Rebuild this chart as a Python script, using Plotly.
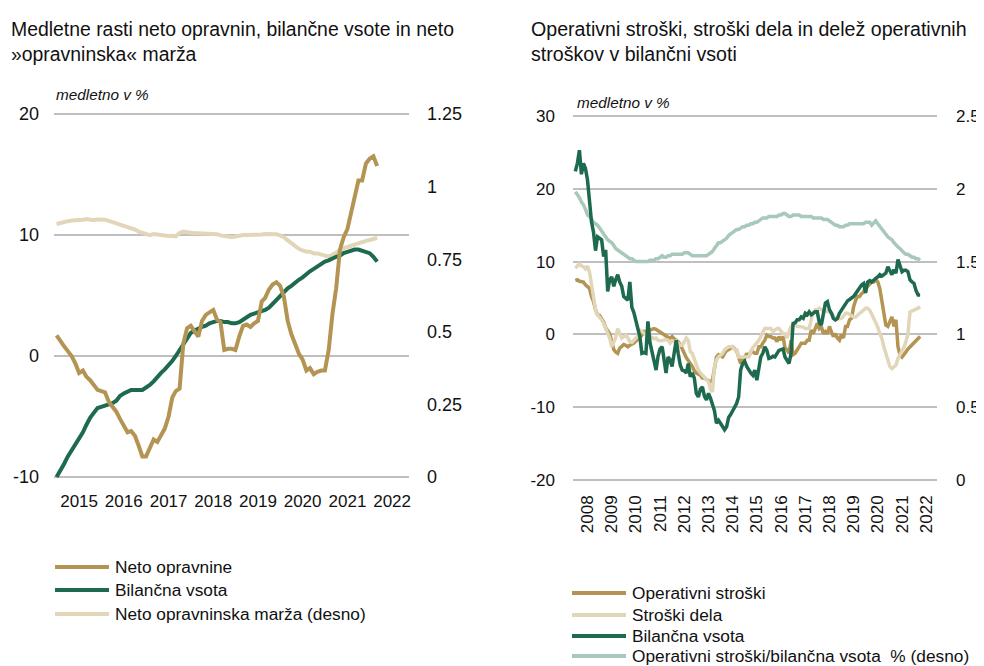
import plotly.graph_objects as go
import pandas as pd

# ---------------- DATA ----------------
# Left chart: monthly, Jul 2014 - Sep 2021
left_start = "2014-07-01"
neto_opravnine = [
    1.7, 1.2, 0.8, 0.4, 0.0, -0.6,
    -1.4, -1.2, -1.7, -2.0, -2.4, -2.8, -2.9, -3.0, -3.8, -4.2, -4.6, -5.2,
    -5.8, -6.3, -6.2, -6.6, -7.4, -8.3, -8.3, -7.6, -6.9, -7.1, -6.6, -6.0,
    -5.0, -3.4, -2.9, -2.7, 1.0, 2.3, 2.5, 2.0, 1.6, 2.9, 3.4, 3.6,
    3.8, 3.0, 2.8, 0.5, 0.6, 0.6, 0.5, 1.6, 2.5, 2.6, 2.4, 2.7,
    2.9, 4.5, 4.8, 5.5, 5.9, 6.1, 5.8, 4.9, 2.9, 1.8, 0.9, 0.2,
    -0.3, -1.2, -1.0, -1.5, -1.3, -1.2, -1.2, 0.5, 3.5, 5.6, 8.8, 9.8,
    10.5, 11.8, 13.2, 14.5, 14.5, 15.9, 16.3, 16.5, 15.7,
]
bilancna_vsota_l = [
    -10.0, -9.5, -8.9, -8.3, -7.8, -7.3,
    -6.8, -6.3, -5.7, -5.1, -4.7, -4.3, -4.2, -4.1, -4.0, -3.9, -3.7, -3.3,
    -3.1, -2.9, -2.8, -2.8, -2.8, -2.8, -2.6, -2.4, -2.1, -1.7, -1.4, -1.1,
    -0.8, -0.4, 0.0, 0.5, 1.0, 1.5, 1.9, 2.1, 2.3, 2.4, 2.5, 2.7,
    2.8, 2.9, 2.9, 2.8, 2.8, 2.7, 2.7, 2.8, 3.0, 3.2, 3.4, 3.5,
    3.6, 3.7, 3.8, 4.0, 4.3, 4.7, 5.0, 5.3, 5.6, 5.8, 6.1, 6.3,
    6.5, 6.8, 7.0, 7.2, 7.4, 7.6, 7.8, 7.9, 8.1, 8.2, 8.3, 8.5,
    8.6, 8.7, 8.8, 8.8, 8.7, 8.6, 8.5, 8.2, 7.8,
]
neto_marza = [
    0.871, 0.875, 0.879, 0.881, 0.883, 0.883,
    0.884, 0.886, 0.888, 0.886, 0.884, 0.887, 0.888, 0.886, 0.882, 0.878, 0.874, 0.868,
    0.864, 0.860, 0.855, 0.852, 0.845, 0.840, 0.835, 0.833, 0.837, 0.835, 0.833, 0.832,
    0.830, 0.831, 0.829, 0.840, 0.845, 0.843, 0.840, 0.839, 0.839, 0.839, 0.839, 0.839,
    0.839, 0.836, 0.832, 0.830, 0.828, 0.826, 0.828, 0.832, 0.833, 0.833, 0.833, 0.833,
    0.833, 0.835, 0.837, 0.837, 0.837, 0.836, 0.832, 0.826, 0.815, 0.805, 0.795, 0.786,
    0.780, 0.776, 0.776, 0.770, 0.770, 0.766, 0.762, 0.759, 0.765, 0.772, 0.782, 0.788,
    0.792, 0.797, 0.801, 0.806, 0.810, 0.813, 0.816, 0.819, 0.823,
]
left_years = [2015, 2016, 2017, 2018, 2019, 2020, 2021, 2022]
left_y_ticks = [-10, 0, 10, 20]
left_y2_ticks = [0, 0.25, 0.5, 0.75, 1, 1.25]
left_names = ["Neto opravnine", "Bilančna vsota", "Neto opravninska marža (desno)"]

# Right chart: monthly, Jul 2007 - Oct 2021
right_start = "2007-07-01"
operativni_stroski = [
    7.4, 7.5, 7.3, 7.2, 7.2, 6.8,
    6.6, 6.3, 5.2, 4.5, 3.4, 2.7, 2.6, 2.1, 1.7, 0.9, 0.4, 0.1,
    -1.0, -2.1, -2.4, -2.6, -1.9, -1.7, -1.4, -1.5, -1.7, -1.5, -1.4, -1.2,
    -0.9, -0.6, -0.3, -0.1, 0.4, 0.3, 0.5, 0.6, 0.7, 0.8, 0.7, 0.5,
    0.4, 0.2, -0.1, -0.3, -0.4, -0.5, -0.3, -0.6, -0.8, -1.0, -1.4, -2.1,
    -2.6, -3.2, -3.5, -4.0, -4.4, -5.0, -5.3, -5.5, -5.6, -6.0, -6.0, -6.2,
    -6.3, -6.5, -6.3, -4.4, -3.1, -2.8, -2.9, -3.1, -2.6, -2.2, -2.1, -1.9,
    -1.7, -2.0, -2.2, -3.1, -4.0, -3.3, -3.3, -2.6, -3.1, -2.4, -2.4, -2.6,
    -2.6, -1.7, -1.7, -1.2, -0.8, -0.1, -0.3, -0.3, -0.5, -0.5, -1.0, -0.3,
    -0.8, -0.3, -1.9, -2.1, -2.6, -0.8, -2.8, -2.6, -2.2, -1.7, -1.2, -1.2,
    -1.2, -0.8, -0.8, 0.6, 0.1, 0.8, 1.5, 0.8, 1.1, 0.1, 0.4, 0.1,
    1.1, 0.3, -0.3, 0.1, -0.5, -0.8, 0.0, -0.5, 1.1, 1.1, 2.0, 2.2,
    3.8, 4.7, 5.2, 5.2, 5.6, 5.8, 6.6, 6.6, 6.9, 7.2, 7.2, 7.5,
    7.2, 6.3, 4.7, 2.9, 1.3, 1.1, 1.8, 2.4, 1.1, 2.0, -1.7, -2.8,
    -3.1, -2.8, -2.4, -2.0, -1.7, -1.5, -1.2, -0.8, -0.6, -0.3,
]
stroski_dela = [
    9.1, 9.5, 9.7, 9.4, 9.3, 9.0,
    9.4, 8.5, 6.6, 4.5, 3.4, 2.7, 2.4, 2.0, 1.5, 0.8, -0.1, -0.5,
    -1.7, -1.0, -0.5, 0.8, 0.2, -0.5, -0.3, -0.1, -0.5, -1.0, -1.1, -0.8,
    -0.5, -0.2, 0.6, 0.4, 0.1, 0.0, -0.1, -0.3, -0.5, -0.6, -0.5, -0.8,
    -0.9, -0.8, -0.8, -0.7, -0.8, -1.2, -0.9, -1.0, -0.9, -1.2, -1.5, -1.5,
    -1.0, -0.5, -0.8, -2.4, -2.6, -3.5, -4.4, -4.9, -5.3, -5.6, -6.0, -6.3,
    -6.5, -7.6, -7.9, -4.4, -3.5, -3.1, -2.8, -2.6, -2.1, -1.9, -1.7, -1.7,
    -1.7, -2.1, -2.1, -3.1, -3.1, -3.1, -3.1, -3.1, -3.1, -2.4, -1.8, -1.5,
    -1.2, -0.8, -0.3, 0.2, 0.8, 0.8, 0.8, 0.8, 0.4, 0.6, 0.8, 0.8,
    0.5, 0.1, 0.1, -0.5, 0.4, 1.1, 1.3, 1.3, 1.1, 1.1, 1.1, 1.0,
    0.8, 0.8, 0.8, 2.0, 3.1, 3.4, 3.4, 3.6, 3.4, 3.4, 3.2, 3.1,
    3.1, 2.9, 2.5, 2.0, 2.1, 2.2, 2.2, 2.5, 2.9, 2.9, 2.7, 2.5,
    2.4, 2.4, 2.7, 2.9, 3.1, 3.4, 3.6, 3.6, 3.3, 2.8, 2.2, 1.5,
    1.0, 0.1, -0.5, -1.7, -2.6, -3.5, -4.4, -4.7, -4.5, -4.2, -3.3, -2.8,
    -2.2, -1.7, -1.0, 0.1, 3.1, 3.2, 3.4, 3.5, 3.6, 3.8,
]
bilancna_vsota_r = [
    22.4, 23.5, 25.3, 22.0, 23.5, 22.8,
    21.2, 17.5, 15.5, 14.0, 11.5, 13.4, 13.2, 13.0, 10.7, 11.6, 5.9, 7.5,
    7.9, 6.6, 7.5, 8.2, 7.2, 6.6, 5.2, 5.0, 4.7, 7.2, 3.7, 3.0,
    2.0, 1.0, -0.3, -2.6, -2.5, -2.6, 1.8, -1.1, -2.5, -3.8, -4.9, -3.0,
    -2.0, -1.7, -3.5, -5.3, -3.1, -3.5, -4.4, -2.5, -0.8, -2.6, -4.2, -4.9,
    -5.0, -5.3, -4.0, -5.8, -5.3, -6.0, -8.1, -8.6, -7.5, -7.2, -8.5, -9.0,
    -8.1, -8.8, -9.5, -10.5, -12.2, -11.8, -12.2, -12.7, -13.1, -12.7, -11.4, -11.0,
    -10.4, -10.0, -9.5, -8.6, -4.9, -4.0, -3.7, -4.4, -4.9, -5.3, -5.6, -4.9,
    -6.3, -4.4, -3.1, -2.6, -1.7, -2.2, -3.3, -3.2, -3.0, -3.1, -2.6, -2.2,
    -2.1, -2.0, -3.1, -3.5, -4.0, -2.6, 1.5, 1.6, 2.0, 2.0, 2.4, 2.2,
    2.9, 2.7, 3.1, 2.7, 2.9, 3.1, 3.1, 1.6, 1.3, 3.1, 4.3, 4.5,
    3.4, 2.9, 2.2, 2.0, 2.2, 2.9, 3.3, 3.8, 4.3, 4.6, 4.8, 5.0,
    5.2, 5.6, 6.0, 6.3, 6.8, 7.0, 5.7, 7.2, 7.4, 7.2, 7.5, 7.7,
    7.9, 8.2, 8.0, 8.2, 8.4, 9.3, 8.8, 8.2, 8.9, 8.4, 10.3, 9.5,
    8.6, 8.8, 8.8, 8.6, 7.5, 7.2, 7.0, 6.0, 5.4, 5.4,
]
op_stroski_bilanca = [
    1.98, 1.96, 1.94, 1.91, 1.89, 1.86,
    1.82, 1.81, 1.79, 1.77, 1.76, 1.75, 1.73, 1.71, 1.68, 1.67, 1.65, 1.64,
    1.63, 1.61, 1.59, 1.58, 1.57, 1.56, 1.55, 1.54, 1.53, 1.52, 1.52, 1.51,
    1.50, 1.50, 1.50, 1.50, 1.50, 1.50, 1.50, 1.51, 1.51, 1.51, 1.52, 1.52,
    1.53, 1.54, 1.53, 1.53, 1.54, 1.54, 1.55, 1.55, 1.55, 1.55, 1.55, 1.55,
    1.56, 1.56, 1.56, 1.55, 1.54, 1.54, 1.54, 1.54, 1.54, 1.54, 1.54, 1.54,
    1.55, 1.56, 1.57, 1.59, 1.61, 1.63, 1.63, 1.64, 1.65, 1.66, 1.68, 1.69,
    1.70, 1.71, 1.72, 1.72, 1.73, 1.74, 1.74, 1.75, 1.75, 1.76, 1.76, 1.77,
    1.77, 1.78, 1.79, 1.80, 1.80, 1.80, 1.81, 1.81, 1.81, 1.81, 1.81, 1.82,
    1.82, 1.83, 1.83, 1.82, 1.81, 1.81, 1.82, 1.82, 1.82, 1.82, 1.81, 1.81,
    1.81, 1.81, 1.81, 1.81, 1.80, 1.80, 1.80, 1.80, 1.80, 1.79, 1.79, 1.79,
    1.78, 1.77, 1.76, 1.75, 1.75, 1.74, 1.74, 1.74, 1.75, 1.75, 1.76, 1.76,
    1.76, 1.76, 1.76, 1.76, 1.76, 1.76, 1.77, 1.77, 1.77, 1.75, 1.77, 1.78,
    1.76, 1.74, 1.72, 1.70, 1.68, 1.67, 1.66, 1.65, 1.63, 1.61, 1.60, 1.59,
    1.57, 1.56, 1.55, 1.55, 1.54, 1.53, 1.53, 1.52, 1.52, 1.51,
]
right_years = list(range(2008, 2023))
right_y_ticks = [-20, -10, 0, 10, 20, 30]
right_y2_ticks = [0, 0.5, 1, 1.5, 2, 2.5]
right_names = ["Operativni stroški", "Stroški dela", "Bilančna vsota",
               "Operativni stroški/bilančna vsota\u00a0\u00a0% (desno)"]

left_title = "Medletne rasti neto opravnin, bilančne vsote in neto<br>»opravninska« marža"
right_title = "Operativni stroški, stroški dela in delež operativnih<br>stroškov v bilančni vsoti"
unit_label = "medletno v %"

# ---------------- STYLE ----------------
VIEW_W, VIEW_H = 984, 666
OFF = 8                      # page body margin
W, H = VIEW_W - OFF, VIEW_H - OFF
GOLD = "#B39452"
GREEN = "#1E6A4E"
BEIGE = "#E2D6B8"
LGREEN = "#A8C8B9"
GRID = "#BFBFBF"
TXT = "#111111"
FONT = "Liberation Sans, Arial, sans-serif"
PADPX = 3                    # extend plot area so edge gridlines are not clipped

# plot-area pixel boxes (top, bottom) of the gridded value ranges
L_TOP, L_BOT = 114, 477
R_TOP, R_BOT = 116, 480

def px_x(x):
    return (x - OFF) / W

def px_y(y):
    return (VIEW_H - y) / H

def fmt(v):
    return ("%g" % v)

def padded(lo, hi, top, bot):
    d = (hi - lo) * PADPX / (bot - top)
    return [lo - d, hi + d]

left_dates = pd.date_range(left_start, periods=len(neto_opravnine), freq="MS")
right_dates = pd.date_range(right_start, periods=len(operativni_stroski), freq="MS")

fig = go.Figure()

# Left chart (base axis y = right-side marža, overlay y2 = left-side %)
fig.add_trace(go.Scatter(x=left_dates, y=neto_marza, name=left_names[2], mode="lines",
                         line=dict(color=BEIGE, width=4), xaxis="x", yaxis="y", showlegend=False))
fig.add_trace(go.Scatter(x=left_dates, y=bilancna_vsota_l, name=left_names[1], mode="lines",
                         line=dict(color=GREEN, width=4), xaxis="x", yaxis="y2", showlegend=False))
fig.add_trace(go.Scatter(x=left_dates, y=neto_opravnine, name=left_names[0], mode="lines",
                         line=dict(color=GOLD, width=4), xaxis="x", yaxis="y2", showlegend=False))

# Right chart (base axis y3 = right-side ratio, overlay y4 = left-side %)
fig.add_trace(go.Scatter(x=right_dates, y=op_stroski_bilanca, name=right_names[3], mode="lines",
                         line=dict(color=LGREEN, width=3.5), xaxis="x2", yaxis="y3", showlegend=False))
fig.add_trace(go.Scatter(x=right_dates, y=operativni_stroski, name=right_names[0], mode="lines",
                         line=dict(color=GOLD, width=3.5), xaxis="x2", yaxis="y4", showlegend=False))
fig.add_trace(go.Scatter(x=right_dates, y=stroski_dela, name=right_names[1], mode="lines",
                         line=dict(color=BEIGE, width=3.5), xaxis="x2", yaxis="y4", showlegend=False))
fig.add_trace(go.Scatter(x=right_dates, y=bilancna_vsota_r, name=right_names[2], mode="lines",
                         line=dict(color=GREEN, width=3.5), xaxis="x2", yaxis="y4", showlegend=False))

def tf(size):
    return dict(family=FONT, size=size, color=TXT)

common = dict(zeroline=False, showline=False, ticks="", automargin=False)

fig.update_layout(
    template="none",
    width=W, height=H,
    margin=dict(l=0, r=0, t=0, b=0, pad=0, autoexpand=False),
    paper_bgcolor="white", plot_bgcolor="rgba(0,0,0,0)",
    font=dict(family=FONT, color=TXT),
    showlegend=False,
    xaxis=dict(domain=[px_x(54), px_x(409)], anchor="y", type="date",
               range=["2014-06-10", "2022-05-19"],
               tickvals=[f"{y}-01-01" for y in left_years], ticktext=[str(y) for y in left_years],
               showgrid=False, tickfont=tf(17), ticklabelstandoff=12 - PADPX, **common),
    yaxis=dict(domain=[px_y(L_BOT + PADPX), px_y(L_TOP - PADPX)], anchor="x", side="right",
               range=padded(0, 1.25, L_TOP, L_BOT),
               tickvals=left_y2_ticks, ticktext=[fmt(v) for v in left_y2_ticks],
               showgrid=False, tickfont=tf(18), ticklabelstandoff=17, **common),
    yaxis2=dict(overlaying="y", anchor="x", side="left",
                range=padded(-10, 20, L_TOP, L_BOT),
                tickvals=left_y_ticks, ticktext=[fmt(v) for v in left_y_ticks],
                showgrid=True, gridcolor=GRID, gridwidth=1.5,
                tickfont=tf(18), ticklabelstandoff=14, **common),
    xaxis2=dict(domain=[px_x(573), px_x(937)], anchor="y3", type="date",
                range=["2007-05-27", "2022-06-13"],
                tickvals=[f"{y}-01-01" for y in right_years], ticktext=[str(y) for y in right_years],
                tickangle=-90, showgrid=False, tickfont=tf(17), ticklabelstandoff=11 - PADPX, **common),
    yaxis3=dict(domain=[px_y(R_BOT + PADPX), px_y(R_TOP - PADPX)], anchor="x2", side="right",
                range=padded(0, 2.5, R_TOP, R_BOT),
                tickvals=right_y2_ticks, ticktext=[fmt(v) for v in right_y2_ticks],
                showgrid=False, tickfont=tf(17), ticklabelstandoff=18, **common),
    yaxis4=dict(overlaying="y3", anchor="x2", side="left",
                range=padded(-20, 30, R_TOP, R_BOT),
                tickvals=right_y_ticks, ticktext=[fmt(v) for v in right_y_ticks],
                showgrid=True, gridcolor=GRID, gridwidth=1.5,
                tickfont=tf(17), ticklabelstandoff=17, **common),
)

annotations = [
    dict(text=left_title, x=px_x(9), y=px_y(42), xref="paper", yref="paper",
         xanchor="left", yanchor="middle", align="left", showarrow=False, font=tf(19.4)),
    dict(text=right_title, x=px_x(529), y=px_y(42), xref="paper", yref="paper",
         xanchor="left", yanchor="middle", align="left", showarrow=False, font=tf(19.6)),
    dict(text=f"<i>{unit_label}</i>", x=px_x(54), y=px_y(94), xref="paper", yref="paper",
         xanchor="left", yanchor="middle", showarrow=False, font=tf(15.3)),
    dict(text=f"<i>{unit_label}</i>", x=px_x(575), y=px_y(103), xref="paper", yref="paper",
         xanchor="left", yanchor="middle", showarrow=False, font=tf(15.3)),
]
shapes = []

left_legend_colors = [GOLD, GREEN, BEIGE]
left_legend_rows = [567, 590, 614]
for name, col, ry in zip(left_names, left_legend_colors, left_legend_rows):
    shapes.append(dict(type="line", xref="paper", yref="paper",
                       x0=px_x(55), x1=px_x(109), y0=px_y(ry), y1=px_y(ry),
                       line=dict(color=col, width=4)))
    annotations.append(dict(text=name, x=px_x(113), y=px_y(ry), xref="paper", yref="paper",
                            xanchor="left", yanchor="middle", showarrow=False, font=tf(17.3)))

right_legend_colors = [GOLD, BEIGE, GREEN, LGREEN]
right_legend_rows = [593, 615, 636, 656]
for name, col, ry in zip(right_names, right_legend_colors, right_legend_rows):
    shapes.append(dict(type="line", xref="paper", yref="paper",
                       x0=px_x(572), x1=px_x(626), y0=px_y(ry), y1=px_y(ry),
                       line=dict(color=col, width=4)))
    annotations.append(dict(text=name, x=px_x(630), y=px_y(ry), xref="paper", yref="paper",
                            xanchor="left", yanchor="middle", showarrow=False, font=tf(17.3)))

fig.update_layout(annotations=annotations, shapes=shapes)

fig.write_html("out.html")
